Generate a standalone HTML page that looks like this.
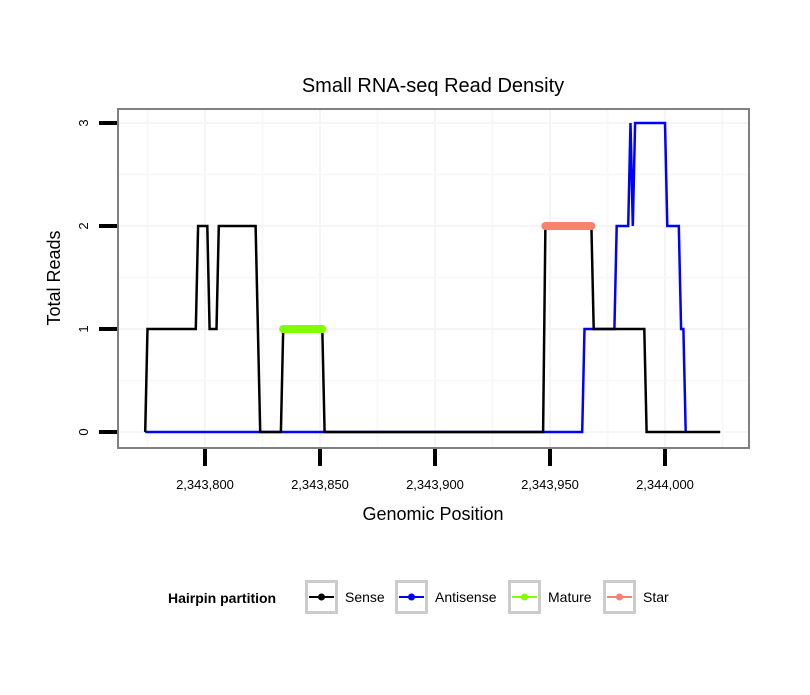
<!DOCTYPE html>
<html><head><meta charset="utf-8"><style>body{margin:0;background:#fff}svg text{font-family:"Liberation Sans",sans-serif}</style></head>
<body>
<svg id="chart" width="810" height="690" xmlns="http://www.w3.org/2000/svg">
<rect width="810" height="690" fill="#fff"/>
<text x="433" y="92" font-size="20" text-anchor="middle">Small RNA-seq Read Density</text>
<g id="grid"></g>
<g id="series"></g>
<rect x="118" y="109" width="631" height="339" fill="none" stroke="#808080" stroke-width="2"/>
<g id="axes"></g>
<text x="433" y="520" font-size="18" text-anchor="middle">Genomic Position</text>
<text transform="translate(60,278) rotate(-90)" font-size="18" text-anchor="middle">Total Reads</text>
<g id="legend">
<text x="168" y="603" font-size="14" font-weight="bold">Hairpin partition</text>
</g>
</svg>
<script>
const xTicks=[2343800,2343850,2343900,2343950,2344000];
const xTickLabels=["2,343,800","2,343,850","2,343,900","2,343,950","2,344,000"];
const yTicks=[0,1,2,3];
const senseX=[2343774,2343775,2343796,2343797,2343801,2343802,2343805,2343806,2343822,2343824,2343833,2343834,2343851,2343852,2343947,2343948,2343968,2343969,2343991,2343992,2344024];
const senseY=[0,1,1,2,2,1,1,2,2,0,0,1,1,0,0,2,2,1,1,0,0];
const antiX=[2343774,2343964,2343965,2343978,2343979,2343984,2343985,2343986,2343987,2344000,2344001,2344006,2344007,2344008,2344009];
const antiY=[0,0,1,1,2,2,3,2,3,3,2,2,1,1,0];
const matureX=[2343834,2343851];
const matureY=[1,1];
const starX=[2343948,2343968];
const starY=[2,2];
const legendLabels=["Sense","Antisense","Mature","Star"];
const legendColors=["#000","#0000ff","#80ff00","#fa8072"];

const NS="http://www.w3.org/2000/svg";
const X=g=>205+(g-2343800)*2.3;
const Y=v=>432-v*103;
function mk(tag,attrs,parent){const e=document.createElementNS(NS,tag);for(const k in attrs)e.setAttribute(k,attrs[k]);document.getElementById(parent).appendChild(e);return e;}
// grid
for(let i=-1;i<xTicks.length;i++){
 if(i>=0){
 const g=mk('line',{x1:X(xTicks[i]),x2:X(xTicks[i]),y1:110,y2:447,stroke:'#f5f5f5','stroke-width':2},'grid');
 
 
 }
 const mx=X(xTicks[0]+(i+0.5)*50);
 const m=mk('line',{x1:mx,x2:mx,y1:110,y2:447,stroke:'#f8f8f8','stroke-width':2},'grid');
 
 
}
for(let i=0;i<yTicks.length;i++){
 const g=mk('line',{x1:119,x2:748,y1:Y(yTicks[i]),y2:Y(yTicks[i]),stroke:'#f5f5f5','stroke-width':2},'grid');
 
 
 if(i<yTicks.length-1){
 const my=Y(yTicks[i]+0.5);
 const m=mk('line',{x1:119,x2:748,y1:my,y2:my,stroke:'#f8f8f8','stroke-width':2},'grid');
 
 
 }
}
// axes
xTicks.forEach((t,i)=>{
 const l=mk('line',{x1:X(t),x2:X(t),y1:449,y2:466,stroke:'#000','stroke-width':4},'axes');
 
 
 const tx=mk('text',{x:X(t),y:489,'font-size':13,'text-anchor':'middle'},'axes');
 tx.textContent=xTickLabels[i];
 
 
});
yTicks.forEach(t=>{
 const l=mk('line',{x1:99,x2:117,y1:Y(t),y2:Y(t),stroke:'#000','stroke-width':4},'axes');
 
 
 const tx=mk('text',{transform:`translate(88,${Y(t)}) rotate(-90)`,'font-size':13,'text-anchor':'middle'},'axes');
 tx.textContent=String(t);
 
 
});
function line(xs,ys,color,w,name,cap){
 const p=mk('polyline',{points:xs.map((x,i)=>X(x)+','+Y(ys[i])).join(' '),fill:'none',stroke:color,'stroke-width':w,'stroke-linejoin':'miter','stroke-linecap':cap||'butt'},'series');
 
 
}
line(antiX,antiY,'#0000ff',2.5,'antisense-line');
line(senseX,senseY,'#000',2.5,'sense-line');
line(matureX,matureY,'#80ff00',8,'mature-line','round');
line(starX,starY,'#fa8072',8,'star-line','round');
// legend
const boxX=[305,395,508,603];
legendLabels.forEach((lab,i)=>{
 const bx=boxX[i];
 const r=mk('rect',{x:bx+1.5,y:581.5,width:30,height:31,fill:'#fff',stroke:'#cccccc','stroke-width':3},'legend');
 
 
 const l=mk('line',{x1:bx+4,x2:bx+29,y1:597,y2:597,stroke:legendColors[i],'stroke-width':2},'legend');
 
 
 const c=mk('circle',{cx:bx+16.5,cy:597,r:3.5,fill:legendColors[i]},'legend');
 
 
 const t=mk('text',{x:bx+40,y:602,'font-size':14},'legend');
 t.textContent=lab;
 
 
});
</script>
</body></html>
